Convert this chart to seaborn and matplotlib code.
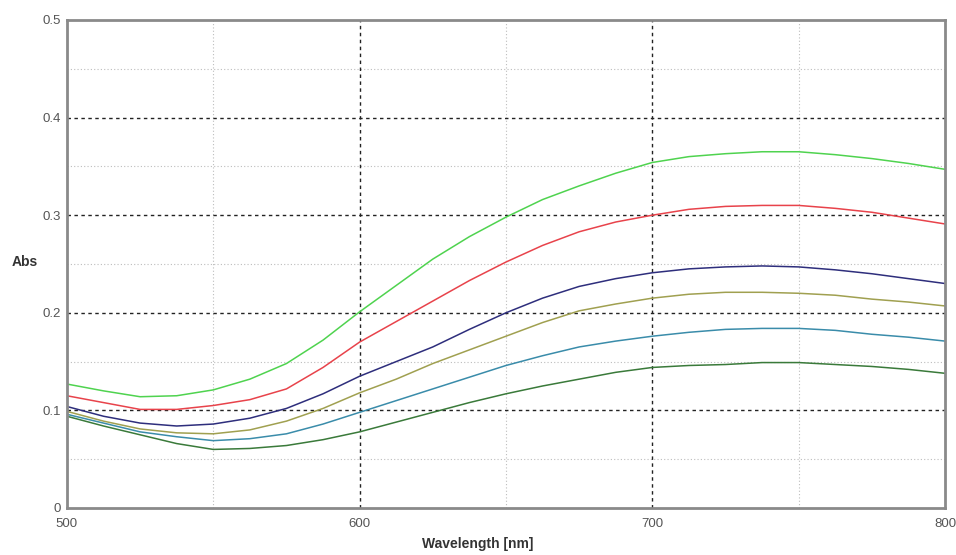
import numpy as np
import pandas as pd
import matplotlib
matplotlib.use("Agg")
import matplotlib.pyplot as plt
import seaborn as sns
from matplotlib.ticker import FixedLocator

wavelength = [500, 512.5, 525, 537.5, 550, 562.5, 575, 587.5, 600, 612.5, 625, 637.5,
              650, 662.5, 675, 687.5, 700, 712.5, 725, 737.5, 750, 762.5, 775, 787.5, 800]

s1_green = [0.127, 0.120, 0.114, 0.115, 0.121, 0.132, 0.148, 0.172, 0.201, 0.228, 0.255, 0.278,
            0.298, 0.316, 0.330, 0.343, 0.354, 0.360, 0.363, 0.365, 0.365, 0.362, 0.358, 0.353, 0.347]
s2_red = [0.115, 0.108, 0.101, 0.101, 0.105, 0.111, 0.122, 0.144, 0.170, 0.191, 0.212, 0.233,
          0.252, 0.269, 0.283, 0.293, 0.300, 0.306, 0.309, 0.310, 0.310, 0.307, 0.303, 0.297, 0.291]
s3_navy = [0.104, 0.094, 0.087, 0.084, 0.086, 0.092, 0.102, 0.117, 0.135, 0.150, 0.165, 0.183,
           0.200, 0.215, 0.227, 0.235, 0.241, 0.245, 0.247, 0.248, 0.247, 0.244, 0.240, 0.235, 0.230]
s4_olive = [0.099, 0.089, 0.081, 0.077, 0.076, 0.080, 0.089, 0.102, 0.118, 0.132, 0.148, 0.162,
            0.176, 0.190, 0.202, 0.209, 0.215, 0.219, 0.221, 0.221, 0.220, 0.218, 0.214, 0.211, 0.207]
s5_blue = [0.096, 0.087, 0.078, 0.073, 0.069, 0.071, 0.076, 0.086, 0.098, 0.110, 0.122, 0.134,
           0.146, 0.156, 0.165, 0.171, 0.176, 0.180, 0.183, 0.184, 0.184, 0.182, 0.178, 0.175, 0.171]
s6_dkgreen = [0.094, 0.084, 0.075, 0.066, 0.060, 0.061, 0.064, 0.070, 0.078, 0.088, 0.098, 0.108,
              0.117, 0.125, 0.132, 0.139, 0.144, 0.146, 0.147, 0.149, 0.149, 0.147, 0.145, 0.142, 0.138]

series_names = ["s1", "s2", "s3", "s4", "s5", "s6"]
series_vals = [s1_green, s2_red, s3_navy, s4_olive, s5_blue, s6_dkgreen]
colors = ["#4fd34f", "#e8434b", "#2e2e7c", "#a0a050", "#3a8caa", "#3a7a3a"]

x_ticks = [500, 600, 700, 800]
x_ticklabels = ["500", "600", "700", "800"]
y_ticks = [0, 0.1, 0.2, 0.3, 0.4, 0.5]
y_ticklabels = ["0", "0.1", "0.2", "0.3", "0.4", "0.5"]

rows = []
for name, vals in zip(series_names, series_vals):
    for w, v in zip(wavelength, vals):
        rows.append({"Wavelength": w, "Abs": v, "series": name})
df = pd.DataFrame(rows)

sns.set_style("white")
plt.rcParams['font.family'] = ['Liberation Sans', 'DejaVu Sans']

fig = plt.figure(figsize=(9.56, 5.55), dpi=100)
ax = fig.add_axes([0.070, 0.0847, 0.9185, 0.8793])

# grids
for xv in [550, 650, 750]:
    ax.axvline(xv, color="#bdbdbd", lw=0.8, ls=(0, (1, 2)), zorder=0)
for yv in [0.05, 0.15, 0.25, 0.35, 0.45]:
    ax.axhline(yv, color="#bdbdbd", lw=0.8, ls=(0, (1, 2)), zorder=0)
for xv in [600, 700]:
    ax.axvline(xv, color="#222222", lw=1.0, ls=(0, (2.5, 2.5)), zorder=0)
for yv in [0.1, 0.2, 0.3, 0.4]:
    ax.axhline(yv, color="#222222", lw=1.0, ls=(0, (2.5, 2.5)), zorder=0)

sns.lineplot(data=df, x="Wavelength", y="Abs", hue="series", palette=colors,
             hue_order=series_names, ax=ax, legend=False, linewidth=1.1, sort=True)

ax.set_xlim(500, 800)
ax.set_ylim(0, 0.5)
ax.xaxis.set_major_locator(FixedLocator(x_ticks))
ax.xaxis.set_minor_locator(FixedLocator([550, 650, 750]))
ax.yaxis.set_major_locator(FixedLocator(y_ticks))
ax.yaxis.set_minor_locator(FixedLocator([0.05, 0.15, 0.25, 0.35, 0.45]))
ax.set_xticklabels(x_ticklabels)
ax.set_yticklabels(y_ticklabels)
ax.tick_params(axis="both", which="major", direction="in", length=4, width=1,
               color="#333333", labelsize=9.5, labelcolor="#555555")
ax.tick_params(axis="both", which="minor", direction="in", length=3, width=1, color="#333333")
ax.tick_params(axis="x", pad=7)
ax.tick_params(axis="y", pad=4)

for sp in ax.spines.values():
    sp.set_color("#8a8a8a")
    sp.set_linewidth(2)
    sp.set_visible(True)

ax.set_xlabel("")
ax.set_ylabel("")
fig.text(0.5, 0.019, "Wavelength [nm]", ha="center", va="center", fontsize=10,
         fontweight="bold", color="#333333")
fig.text(0.026, 0.528, "Abs", ha="center", va="center", fontsize=10,
         fontweight="bold", color="#333333")

fig.savefig("out.png", dpi=100)
